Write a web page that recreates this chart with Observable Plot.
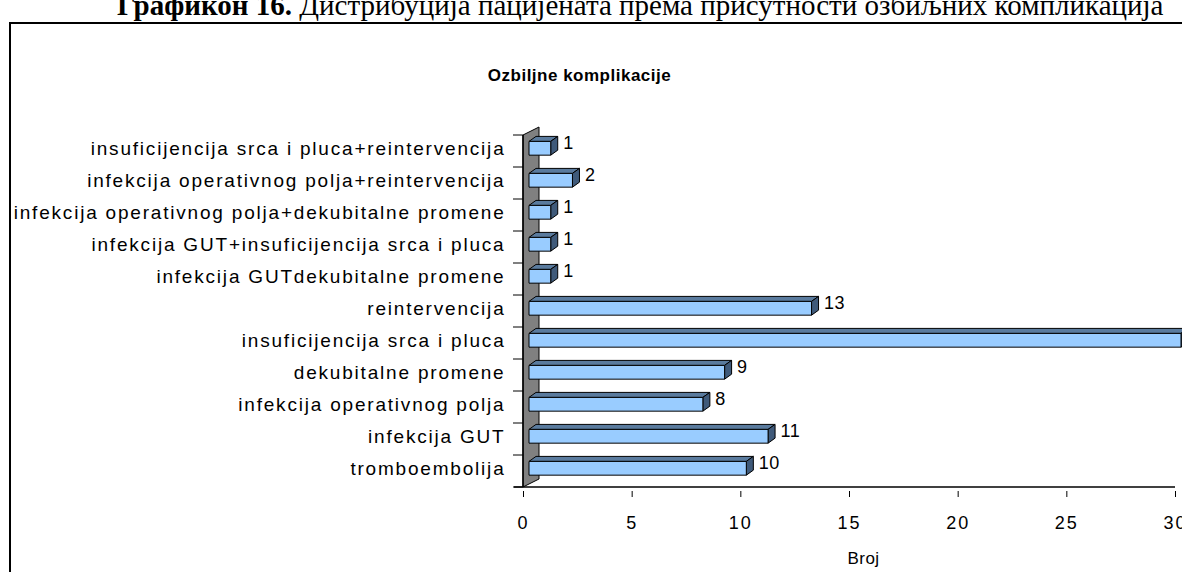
<!DOCTYPE html>
<html><head><meta charset="utf-8">
<script src="https://cdn.jsdelivr.net/npm/d3@7"></script>
<script src="https://cdn.jsdelivr.net/npm/@observablehq/plot@0.6"></script>
<style>
html,body{margin:0;padding:0;background:#fff;overflow:hidden;width:1182px;height:572px;}
#heading{position:absolute;left:117px;top:-9px;text-align:left;font-family:"Liberation Serif","Times New Roman",serif;font-size:29px;line-height:1;white-space:nowrap;color:#000;}
#box{position:absolute;left:9px;top:22px;width:2000px;height:1000px;border:2px solid #000;box-sizing:border-box;}
#chart{position:absolute;left:0;top:22px;}
</style></head><body>
<div id="heading"><b>Графикон 16.</b> Дистрибуција пацијената према присутности озбиљних компликација</div>
<div id="box"></div>
<div id="chart"></div>
<script>
const categories = [
  "tromboembolija",
  "infekcija GUT",
  "infekcija operativnog polja",
  "dekubitalne promene",
  "insuficijencija srca i pluca",
  "reintervencija",
  "infekcija GUTdekubitalne promene",
  "infekcija GUT+insuficijencija srca i pluca",
  "infekcija operativnog polja+dekubitalne promene",
  "infekcija operativnog polja+reintervencija",
  "insuficijencija srca i pluca+reintervencija"
];
const counts = [10, 11, 8, 9, 30, 13, 1, 1, 1, 2, 1];
const xTicks = [0, 5, 10, 15, 20, 25, 30];
const chartTitle = "Ozbiljne komplikacije";
const xLabel = "Broj";

const data = categories.map((c, i) => ({category: c, count: counts[i]}));
const yOrder = categories.slice().reverse();

const frontColor = "#99CCFF", topColor = "#5A7B9E", sideColor = "#3F5A7A", wallColor = "#808080";

function scene(index, scales) {
  const x = scales.x, y = scales.y;
  const ns = "http://www.w3.org/2000/svg";
  const g = document.createElementNS(ns, "g");
  const add = (tag, attrs) => { const e = document.createElementNS(ns, tag); for (const k in attrs) e.setAttribute(k, attrs[k]); g.appendChild(e); return e; };
  const step = y(yOrder[1]) - y(yOrder[0]);
  const top = y(yOrder[0]);
  const bottom = top + step * yOrder.length;
  const x0 = x(0);
  const xMax = x(xTicks[xTicks.length - 1]);
  const wallW = 16, wallD = 8;
  add("polygon", {points: `${x0},${top} ${x0 + wallW},${top - wallD} ${x0 + wallW},${bottom - wallD} ${x0},${bottom}`, fill: wallColor, stroke: "#000", "stroke-width": 1, "stroke-linejoin": "round"});
  add("line", {x1: x0, y1: top, x2: x0, y2: bottom, stroke: "#000", "stroke-width": 1.5});
  for (let i = 0; i <= yOrder.length; i++) {
    const yy = top + i * step;
    add("line", {x1: x0 - 10, x2: x0, y1: yy, y2: yy, stroke: "#000", "stroke-width": 1});
  }
  add("line", {x1: x0 - 9, x2: xMax, y1: bottom, y2: bottom, stroke: "#000", "stroke-width": 1.5});
  const ox = 6, dX = 7, dY = 5, ft = step * 0.2, fb = step * 0.63;
  data.forEach(d => {
    const b = y(d.category);
    const yt = b + ft, yb = b + fb;
    const xl = x0 + ox, xr = x(d.count) + ox;
    const st = {stroke: "#000", "stroke-width": 1, "stroke-linejoin": "round"};
    add("polygon", {points: `${xl},${yt} ${xr},${yt} ${xr + dX},${yt - dY} ${xl + dX},${yt - dY}`, fill: topColor, ...st});
    add("polygon", {points: `${xr},${yt} ${xr + dX},${yt - dY} ${xr + dX},${yb - dY} ${xr},${yb}`, fill: sideColor, ...st});
    add("rect", {x: xl, y: yt, width: xr - xl, height: yb - yt, fill: frontColor, ...st});
  });
  return g;
}

const chart = Plot.plot({
  width: 1182, height: 550,
  marginLeft: 523, marginRight: 7, marginTop: 108, marginBottom: 81,
  style: {background: "transparent", fontFamily: "'Liberation Sans', Arial, sans-serif", fontSize: "16px", color: "#000"},
  x: {domain: [0, 30], ticks: xTicks},
  y: {type: "band", domain: yOrder, padding: 0},
  marks: [
    scene,
    Plot.axisY({tickSize: 0, tickPadding: 18, fontSize: 19, dy: -3, label: null}),
    Plot.axisX({ticks: xTicks, tickSize: 6, tickPadding: 19, fontSize: 18, label: null}),
    Plot.text(data, {x: "count", y: "category", text: d => String(d.count), dx: 18, dy: -8, textAnchor: "start", fontSize: 18}),
    Plot.text([chartTitle], {frameAnchor: "top", dx: -270, dy: -62, fontWeight: "bold", fontSize: 17}),
    Plot.text([xLabel], {frameAnchor: "bottom", dx: 14, dy: 72, fontSize: 17})
  ]
});
document.getElementById("chart").appendChild(chart);
chart.querySelectorAll('[aria-label="y-axis tick label"] text').forEach(t => t.style.letterSpacing = "1.8px");
chart.querySelectorAll('[aria-label="x-axis tick label"] text').forEach(t => t.style.letterSpacing = "2px");
chart.querySelectorAll('[aria-label="text"] text').forEach(t => t.style.letterSpacing = "0.5px");
</script>
</body></html>
